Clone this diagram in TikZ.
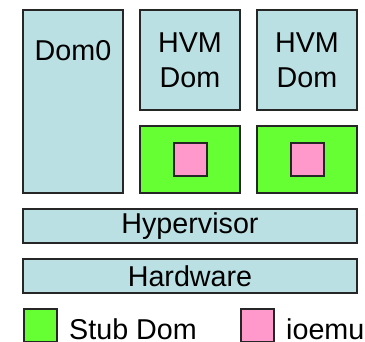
\documentclass[tikz,border=0pt]{standalone}
\usepackage{fontspec}
\setmainfont{Liberation Sans}
\usepackage{tikz}
\usetikzlibrary{positioning}
\definecolor{xenblue}{HTML}{BBE0E3}
\definecolor{xengreen}{HTML}{66FF33}
\definecolor{xenpink}{HTML}{FF99CC}

\begin{document}
\begin{tikzpicture}[
  x=1pt,y=-1pt,
  every node/.style={font=\fontsize{28.7}{35}\selectfont},
  dom/.style={draw=black!85,line width=2pt,fill=xenblue,inner sep=0pt,align=center},
  stub/.style={draw=black!85,line width=2pt,fill=xengreen,inner sep=0pt},
  emu/.style={draw=black!85,line width=2pt,fill=xenpink,inner sep=0pt,minimum size=33pt},
  key/.style={draw=black!85,line width=2pt,inner sep=0pt,minimum size=33pt,anchor=north west},
  txt/.style={inner sep=0pt,anchor=base}
]
\useasboundingbox (0,0) rectangle (365,341);
\fill[white] (0,0) rectangle (365,341);
% domains
\node[dom,minimum width=100pt,minimum height=183pt] (dom0) at (73,101.5) {};
\node[txt] (dom0lbl) at (73,60) {Dom0};
\node[dom,minimum width=100pt,minimum height=100pt] (hvma) at (190,60) {HVM\\Dom};
\node[dom,minimum width=100pt,minimum height=100pt] (hvmb) at (307,60) {HVM\\Dom};
% stub domains with ioemu
\node[stub,minimum width=100pt,minimum height=67pt] (stuba) at (190,159.5) {};
\node[stub,minimum width=100pt,minimum height=67pt] (stubb) at (307,159.5) {};
\node[emu] (emua) at (stuba) {};
\node[emu] (emub) at (stubb) {};
% lower layers
\node[dom,minimum width=334pt,minimum height=34pt] (hyp) at (190,226) {Hypervisor};
\node[dom,minimum width=334pt,minimum height=34pt] (hw) at (190,276) {Hardware};
% legend
\node[key,fill=xengreen] (keystub) at (23,308) {};
\node[txt,anchor=base west] (keystublbl) at (69,339.5) {Stub Dom};
\node[key,fill=xenpink] (keyemu) at (240,308) {};
\node[txt,anchor=base west] (keyemulbl) at (286,339.5) {ioemu};
\end{tikzpicture}
\end{document}
